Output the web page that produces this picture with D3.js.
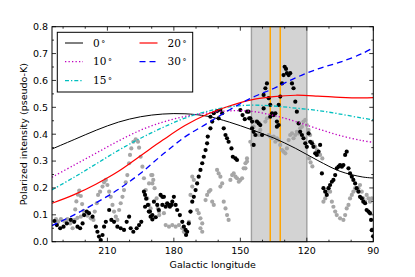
<!DOCTYPE html>
<html>
<head>
<meta charset="utf-8">
<script src="https://cdn.jsdelivr.net/npm/d3@7"></script>
<style>
  body { margin: 0; background: #fff; }
  svg { display: block; }
  text { font-family: "DejaVu Sans", sans-serif; }
</style>
</head>
<body>
<svg id="plot" width="415" height="277"></svg>
<script>
// ---- data ----
const curveLon = [235, 225, 215, 205, 195, 185, 175, 165, 155, 145, 135, 125, 115, 105, 95, 90];
const deg0  = [0.345, 0.380, 0.415, 0.445, 0.465, 0.475, 0.476, 0.467, 0.445, 0.417, 0.386, 0.347, 0.302, 0.262, 0.241, 0.237];
const deg10 = [0.240, 0.285, 0.330, 0.375, 0.415, 0.445, 0.466, 0.479, 0.487, 0.485, 0.470, 0.447, 0.420, 0.395, 0.376, 0.370];
const deg15 = [0.193, 0.240, 0.290, 0.340, 0.385, 0.425, 0.460, 0.485, 0.502, 0.508, 0.505, 0.497, 0.488, 0.475, 0.460, 0.453];
const deg20 = [0.143, 0.175, 0.215, 0.262, 0.320, 0.378, 0.432, 0.474, 0.505, 0.528, 0.540, 0.545, 0.542, 0.537, 0.535, 0.536];
const deg30 = [0.060, 0.100, 0.145, 0.195, 0.255, 0.325, 0.390, 0.440, 0.490, 0.535, 0.570, 0.610, 0.643, 0.668, 0.700, 0.722];

const blackPoints = [
  [233.9,0.077],[232.8,0.062],[231.3,0.050],[229.8,0.056],[228.3,0.068],[226.5,0.081],[225.0,0.074],[223.5,0.056],
  [222.3,0.050],[221.2,0.068],[220.5,0.099],[219.3,0.112],[218.3,0.106],[216.7,0.093],[215.2,0.056],[214.5,0.037],
  [213.8,0.019],[213.0,0.006],[212.2,0.025],[211.5,0.056],[210.7,0.074],[209.2,0.118],[208.2,0.081],[207.0,0.074],
  [205.5,0.056],[204.0,0.050],[202.5,0.044],[201.3,0.074],[200.2,0.093],[199.5,0.050],[198.3,0.037],[196.8,0.050],
  [195.7,0.062],[194.7,0.074],[193.5,0.186],[193.0,0.174],[192.5,0.160],[193.0,0.130],[191.7,0.137],[191.3,0.112],
  [190.8,0.112],[190.5,0.093],[189.7,0.083],[189.7,0.099],[189.0,0.149],[188.2,0.091],[187.5,0.137],[186.8,0.118],
  [186.0,0.174],[185.2,0.137],[185.2,0.167],[184.5,0.167],[183.7,0.130],[183.0,0.143],[182.2,0.137],[181.8,0.130],
  [181.0,0.137],[180.7,0.149],[180.0,0.167],[179.2,0.137],[178.5,0.118],[177.3,0.099],[176.2,0.074],[175.5,0.056],
  [174.7,0.044],[174.0,0.037],[174.5,0.025],[173.3,0.068],[172.5,0.112],[171.7,0.149],[171.0,0.167],[170.2,0.192],
  [169.5,0.217],[168.8,0.242],[168.0,0.267],[167.2,0.292],[166.5,0.316],[165.7,0.341],[165.0,0.366],[164.7,0.391],
  [163.5,0.422],[162.7,0.447],[163.5,0.465],[162.0,0.478],[160.5,0.486],[159.0,0.490],[158.2,0.478],[159.8,0.459],
  [157.5,0.422],[156.7,0.397],[156.0,0.385],[155.3,0.372],[154.0,0.347],[153.4,0.316],[152.2,0.310],[151.5,0.304],
  [150.0,0.490],[149.0,0.471],[148.0,0.456],[147.0,0.484],[146.3,0.484],[146.0,0.459],[145.5,0.459],[144.7,0.447],
  [144.7,0.422],[144.0,0.409],[144.0,0.360],[143.2,0.397],[142.5,0.447],[141.7,0.440],[141.0,0.434],[140.2,0.397],
  [139.5,0.496],[139.5,0.546],[138.7,0.571],[138.0,0.589],[137.2,0.534],[136.5,0.509],[136.5,0.465],[135.7,0.478],
  [135.0,0.471],[134.2,0.478],[133.5,0.447],[133.5,0.428],[132.7,0.434],[132.7,0.509],[132.0,0.540],[131.2,0.589],
  [130.5,0.620],[130.0,0.651],[129.4,0.643],[129.0,0.627],[128.2,0.620],[127.5,0.627],[126.7,0.589],[126.0,0.571],
  [125.2,0.521],[124.5,0.484],[123.7,0.440],[123.0,0.409],[122.2,0.397],[121.5,0.385],[120.7,0.366],[120.0,0.353],
  [119.2,0.403],[118.5,0.372],[117.7,0.366],[117.0,0.353],[116.2,0.329],[115.5,0.323],[114.7,0.335],[114.0,0.360],
  [113.2,0.254],[112.5,0.199],[111.7,0.186],[111.0,0.174],[110.2,0.199],[109.5,0.211],[108.7,0.223],[108.0,0.230],
  [107.2,0.248],[106.5,0.273],[105.7,0.279],[105.0,0.285],[104.2,0.279],[103.5,0.285],[102.7,0.323],[102.0,0.335],
  [101.2,0.273],[100.5,0.254],[99.7,0.242],[99.0,0.230],[98.2,0.217],[97.5,0.199],[96.7,0.186],[96.0,0.167],
  [95.2,0.161],[94.5,0.149],[93.7,0.143],[93.0,0.118],[92.2,0.112],[91.5,0.106],[91.0,0.081],[90.7,0.043],[90.1,0.020]
];

const grayPoints = [
  [233.2,0.084],[232.2,0.074],[231.0,0.084],[229.5,0.077],[228.0,0.084],[226.8,0.068],[225.7,0.050],[224.7,0.081],
  [224.5,0.120],[224.0,0.150],[223.3,0.175],[222.7,0.190],[222.0,0.170],[221.4,0.140],[220.8,0.115],
  [223.5,0.089],[222.0,0.093],[220.5,0.102],[219.0,0.097],[217.5,0.087],[216.3,0.081],[215.7,0.112],[214.8,0.143],
  [214.2,0.174],[213.3,0.186],[212.2,0.205],[211.5,0.221],[210.7,0.230],[210.0,0.211],[209.2,0.186],[208.5,0.167],
  [207.7,0.137],[207.0,0.112],[206.2,0.093],[205.5,0.081],[204.7,0.118],[204.0,0.143],[203.2,0.167],[202.5,0.192],
  [201.7,0.221],[201.0,0.248],[200.2,0.292],[199.8,0.323],[199.2,0.347],[198.3,0.372],[197.2,0.381],[196.2,0.372],
  [195.7,0.350],[195.0,0.316],[194.2,0.279],[193.5,0.236],[192.7,0.192],[192.0,0.161],[191.2,0.137],[190.5,0.124],
  [191.2,0.217],[190.2,0.248],[189.3,0.230],[188.7,0.199],[187.8,0.161],[187.2,0.124],[186.6,0.099],
  [189.7,0.248],[189.7,0.217],[186.7,0.112],[183.7,0.137],[184.5,0.106],[183.7,0.062],[182.2,0.056],[180.7,0.062],
  [179.2,0.056],[177.7,0.062],[176.2,0.050],[175.5,0.037],[174.7,0.031],[173.2,0.074],[172.5,0.112],[172.5,0.174],
  [171.7,0.205],[171.7,0.242],[171.0,0.230],[169.5,0.118],[168.8,0.106],[168.0,0.087],[167.2,0.068],[168.0,0.050],
  [167.2,0.037],[165.7,0.155],[165.0,0.174],[164.2,0.186],[163.5,0.192],[162.7,0.149],[162.0,0.137],[160.5,0.267],
  [159.8,0.254],[159.0,0.242],[158.2,0.217],[159.0,0.205],[157.5,0.149],[156.7,0.124],[156.0,0.099],[155.3,0.081],
  [154.5,0.230],[153.7,0.248],[153.0,0.254],[152.2,0.242],[151.5,0.236],[150.7,0.223],[150.0,0.230],[149.2,0.236],
  [148.5,0.273],[147.7,0.292],[147.0,0.310],[147.7,0.273],[147.0,0.298],[145.5,0.372],[144.7,0.360],[144.0,0.428],
  [143.2,0.447],[141.7,0.397],[141.0,0.416],[138.7,0.447],[138.0,0.459],[137.2,0.397],[136.5,0.391],[135.7,0.385],
  [135.0,0.391],[134.2,0.372],[133.5,0.385],[132.7,0.378],[132.0,0.360],[131.2,0.341],[130.5,0.335],[129.7,0.329],
  [129.0,0.347],[128.2,0.378],[127.5,0.397],[126.7,0.403],[126.0,0.385],[125.2,0.397],[124.5,0.409],[123.7,0.403],
  [123.0,0.422],[122.2,0.428],[121.5,0.447],[120.7,0.453],[120.0,0.434],[119.2,0.416],[118.5,0.397],[117.7,0.372],
  [117.0,0.360],[116.2,0.353],[115.5,0.341],[114.0,0.323],[113.0,0.310],[119.0,0.310],[118.3,0.295],[117.5,0.280],
  [112.5,0.149],[111.7,0.161],[111.0,0.186],[110.2,0.199],[109.5,0.186],[108.7,0.149],[108.0,0.130],[107.2,0.112],
  [106.5,0.099],[105.0,0.087],[103.5,0.081],[102.7,0.099],[102.0,0.124],[101.2,0.137],[100.5,0.161],[99.7,0.174],
  [99.0,0.186],[98.2,0.199],[97.5,0.192],[96.7,0.199],[96.0,0.211],[95.2,0.186],[94.5,0.161],[93.7,0.149],
  [93.0,0.174],[92.2,0.161],[91.5,0.149],[90.7,0.161]
];

const regionLon = [145, 120];
const orangeLon = [136.5, 132];
const xMajorTicks = [210, 180, 150, 120, 90];
const xMinorTicks = [230, 220, 200, 190, 170, 160, 140, 130, 110, 100];
const yMajorTicks = [0, 0.1, 0.2, 0.3, 0.4, 0.5, 0.6, 0.7, 0.8];
const yMinorTicks = [0.05, 0.15, 0.25, 0.35, 0.45, 0.55, 0.65, 0.75];
const seriesLabels = ["0", "10", "15", "20", "30"];

// ---- drawing ----
function drawChart() {
  const svg = d3.select("#plot");
  const mLeft = 52, mRight = 373.3, mTop = 26.7, mBottom = 241.7;

  const x = d3.scaleLinear().domain([235, 90]).range([mLeft, mRight]);
  const y = d3.scaleLinear().domain([0, 0.8]).range([mBottom, mTop]);

  const styles = [
    {values: deg0,  color: "#000000", width: 1.0, dash: null},
    {values: deg10, color: "#bf00bf", width: 1.3, dash: "1.3,2.2"},
    {values: deg15, color: "#00bfbf", width: 1.3, dash: "4,2,1.3,2"},
    {values: deg20, color: "#ff0000", width: 1.2, dash: null},
    {values: deg30, color: "#0000ff", width: 1.3, dash: "6,4"}
  ];

  svg.append("rect").attr("width", 415).attr("height", 277).attr("fill", "#fff");

  const plot = svg.append("g");
  plot.append("clipPath").attr("id", "clip")
    .append("rect").attr("x", mLeft).attr("y", mTop)
    .attr("width", mRight - mLeft).attr("height", mBottom - mTop);

  // shaded region and orange markers
  plot.append("rect")
    .attr("x", x(regionLon[0])).attr("y", mTop)
    .attr("width", x(regionLon[1]) - x(regionLon[0])).attr("height", mBottom - mTop)
    .attr("fill", "#d3d3d3").attr("stroke", "#a0a0a0").attr("stroke-width", 1.4);

  plot.selectAll(".orange").data(orangeLon).enter().append("line")
    .attr("x1", d => x(d)).attr("x2", d => x(d))
    .attr("y1", mTop).attr("y2", mBottom)
    .attr("stroke", "#ffa500").attr("stroke-width", 1.5);

  const pts = plot.append("g").attr("clip-path", "url(#clip)");
  pts.selectAll(".gray").data(grayPoints).enter().append("circle")
    .attr("cx", d => x(d[0])).attr("cy", d => y(d[1])).attr("r", 2.1)
    .attr("fill", "#a6a6a6");
  pts.selectAll(".black").data(blackPoints).enter().append("circle")
    .attr("cx", d => x(d[0])).attr("cy", d => y(d[1])).attr("r", 2.1)
    .attr("fill", "#000");

  const line = d3.line()
    .x((d, i) => x(curveLon[i]))
    .y(d => y(d))
    .curve(d3.curveCatmullRom);

  const curves = plot.append("g").attr("clip-path", "url(#clip)");
  styles.forEach(s => {
    curves.append("path")
      .attr("d", line(s.values))
      .attr("fill", "none")
      .attr("stroke", s.color)
      .attr("stroke-width", s.width)
      .attr("stroke-dasharray", s.dash);
  });

  // frame
  svg.append("rect")
    .attr("x", mLeft).attr("y", mTop)
    .attr("width", mRight - mLeft).attr("height", mBottom - mTop)
    .attr("fill", "none").attr("stroke", "#000").attr("stroke-width", 1);

  // ticks on all four sides, pointing inward
  const tickG = svg.append("g").attr("stroke", "#000").attr("stroke-width", 0.8);
  function xTicks(vals, len) {
    vals.forEach(v => {
      tickG.append("line").attr("x1", x(v)).attr("x2", x(v)).attr("y1", mBottom).attr("y2", mBottom - len);
      tickG.append("line").attr("x1", x(v)).attr("x2", x(v)).attr("y1", mTop).attr("y2", mTop + len);
    });
  }
  function yTicks(vals, len) {
    vals.forEach(v => {
      tickG.append("line").attr("x1", mLeft).attr("x2", mLeft + len).attr("y1", y(v)).attr("y2", y(v));
      tickG.append("line").attr("x1", mRight).attr("x2", mRight - len).attr("y1", y(v)).attr("y2", y(v));
    });
  }
  xTicks(xMajorTicks, 4); xTicks(xMinorTicks, 2);
  yTicks(yMajorTicks, 4); yTicks(yMinorTicks, 2);

  svg.selectAll(".xlab").data(xMajorTicks).enter().append("text")
    .attr("x", d => x(d)).attr("y", 254)
    .attr("text-anchor", "middle").attr("font-size", 9.5)
    .text(d => d);

  svg.selectAll(".ylab").data(yMajorTicks).enter().append("text")
    .attr("x", 48).attr("y", d => y(d) + 3.4)
    .attr("text-anchor", "end").attr("font-size", 9.5)
    .text(d => d3.format(".1f")(d));

  svg.append("text")
    .attr("x", (mLeft + mRight) / 2).attr("y", 268)
    .attr("text-anchor", "middle").attr("font-size", 9.5)
    .text("Galactic longitude");

  svg.append("text")
    .attr("transform", "translate(26.5," + (mTop + mBottom) / 2 + ") rotate(-90)")
    .attr("text-anchor", "middle").attr("font-size", 9.5)
    .text("Polarized intensity (pseudo-K)");

  // legend
  const lg = svg.append("g");
  lg.append("rect")
    .attr("x", 57.3).attr("y", 32.3).attr("width", 135.4).attr("height", 59.7)
    .attr("fill", "#fff").attr("stroke", "#000").attr("stroke-width", 1);

  const legendPos = [[65, 43], [65, 61.7], [65, 80.7], [139.5, 43], [139.5, 61.7]];
  styles.forEach((s, i) => {
    const [lx, ly] = legendPos[i];
    lg.append("line")
      .attr("x1", lx).attr("x2", lx + 18).attr("y1", ly).attr("y2", ly)
      .attr("stroke", s.color).attr("stroke-width", s.width)
      .attr("stroke-dasharray", s.dash);
    const t = lg.append("text")
      .attr("x", lx + 28).attr("y", ly + 3.6)
      .attr("font-size", 10.5)
      .style("font-family", "'DejaVu Serif', serif");
    t.append("tspan").text(seriesLabels[i]);
    t.append("tspan").attr("dx", 1.5).attr("font-size", 8).attr("dy", -1).text("°");
  });
}

drawChart();
</script>
</body>
</html>
